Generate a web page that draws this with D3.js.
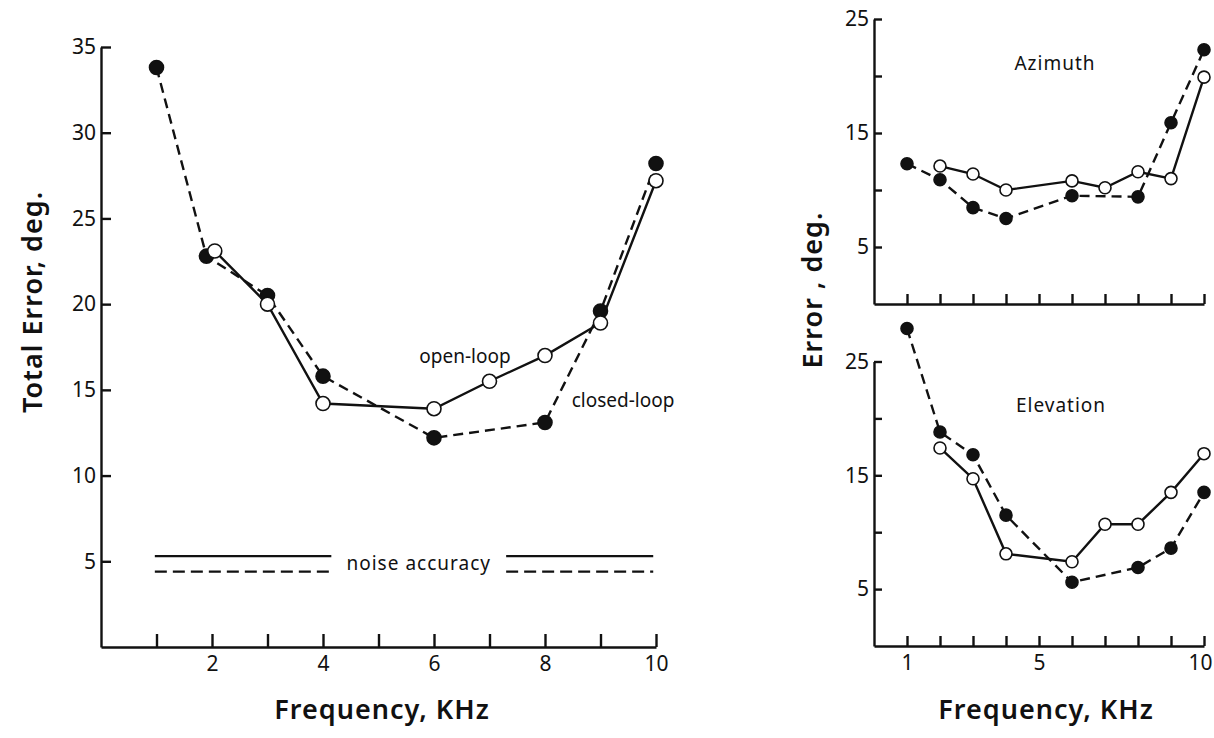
<!DOCTYPE html>
<html>
<head>
<meta charset="utf-8">
<script src="https://cdn.jsdelivr.net/npm/d3@7"></script>
<style>
  body { margin: 0; background: #fff; }
  svg text { font-family: "Noto Sans", "DejaVu Sans", sans-serif; fill: #111; }
  .axis path, .axis line { stroke: #111; stroke-width: 2.4; }
  .axis text { font-size: 21px; }
  .title { font-size: 27px; font-weight: 600; letter-spacing: 1px; }
  .note { font-size: 19px; }
</style>
</head>
<body>
<div id="chart"></div>
<script>
// left panel: total error vs frequency
var leftClosedFreq = [1, 1.9, 3, 4, 6, 8, 9, 10];
var leftClosedErr = [33.8, 22.8, 20.5, 15.8, 12.2, 13.1, 19.6, 28.2];
var leftOpenFreq = [2.05, 3, 4, 6, 7, 8, 9, 10];
var leftOpenErr = [23.1, 20.0, 14.2, 13.9, 15.5, 17.0, 18.9, 27.2];
var noiseOpen = 5.3;
var noiseClosed = 4.4;
var noiseSpans = [[0.97, 4.15], [7.3, 9.95]];

// right panels
var closedFreq = [1, 2, 3, 4, 6, 8, 9, 10];
var openFreq = [2, 3, 4, 6, 7, 8, 9, 10];
var azClosed = [12.3, 10.9, 8.45, 7.5, 9.5, 9.4, 15.9, 22.3];
var azOpen = [12.1, 11.4, 10.0, 10.8, 10.2, 11.6, 11.0, 19.9];
var elClosed = [27.9, 18.8, 16.8, 11.5, 5.6, 6.9, 8.6, 13.5];
var elOpen = [17.4, 14.7, 8.1, 7.4, 10.7, 10.7, 13.5, 16.9];

var leftYTicks = [5, 10, 15, 20, 25, 30, 35];
var leftXTicks = [1, 2, 3, 4, 5, 6, 7, 8, 9, 10];
var leftXLabels = [2, 4, 6, 8, 10];
var rightYTicks = [5, 10, 15, 20, 25];
var rightYLabels = [5, 15, 25];
var rightXLabels = [1, 5, 10];

var svgWidth = 1214;
var svgHeight = 738;

var svg = d3.select("#chart")
  .append("svg")
  .attr("width", svgWidth)
  .attr("height", svgHeight);

function zip(xs, ys) {
  return xs.map(function(x, i) { return [x, ys[i]]; });
}

function drawSeries(g, xScale, yScale, pts, dashed, filled, r) {
  var line = d3.line()
    .x(function(d) { return xScale(d[0]); })
    .y(function(d) { return yScale(d[1]); });
  g.append("path")
    .datum(pts)
    .attr("d", line)
    .attr("fill", "none")
    .attr("stroke", "#111")
    .attr("stroke-width", 2.4)
    .attr("stroke-dasharray", dashed ? "10,6" : null);
  g.selectAll(null)
    .data(pts)
    .enter()
    .append("circle")
    .attr("cx", function(d) { return xScale(d[0]); })
    .attr("cy", function(d) { return yScale(d[1]); })
    .attr("r", r)
    .attr("fill", filled ? "#111" : "#fff")
    .attr("stroke", "#111")
    .attr("stroke-width", 1.6);
}

// ---------- left chart ----------
var lx = d3.scaleLinear().domain([0, 10]).range([101, 656]);
var ly = d3.scaleLinear().domain([0, 35]).range([647, 47]);

svg.append("g")
  .attr("class", "axis")
  .attr("transform", "translate(0,647)")
  .call(d3.axisBottom(lx).tickValues(leftXTicks).tickSizeInner(-13).tickSizeOuter(0).tickPadding(9)
    .tickFormat(function(d) { return leftXLabels.indexOf(d) >= 0 ? d : ""; }));

svg.append("g")
  .attr("class", "axis")
  .attr("transform", "translate(101,0)")
  .call(d3.axisLeft(ly).tickValues(leftYTicks).tickSizeInner(-10).tickSizeOuter(0).tickPadding(5));

var leftG = svg.append("g");
drawSeries(leftG, lx, ly, zip(leftClosedFreq, leftClosedErr), true, true, 7);
drawSeries(leftG, lx, ly, zip(leftOpenFreq, leftOpenErr), false, false, 7);

// noise accuracy lines
noiseSpans.forEach(function(s) {
  leftG.append("line")
    .attr("x1", lx(s[0])).attr("x2", lx(s[1]))
    .attr("y1", ly(noiseOpen)).attr("y2", ly(noiseOpen))
    .attr("stroke", "#111").attr("stroke-width", 2.2);
  leftG.append("line")
    .attr("x1", lx(s[0])).attr("x2", lx(s[1]))
    .attr("y1", ly(noiseClosed)).attr("y2", ly(noiseClosed))
    .attr("stroke", "#111").attr("stroke-width", 2.2)
    .attr("stroke-dasharray", "12,6");
});

leftG.append("text")
  .attr("class", "note")
  .style("letter-spacing", "1px")
  .attr("x", (lx(noiseSpans[0][1]) + lx(noiseSpans[1][0])) / 2)
  .attr("y", (ly(noiseOpen) + ly(noiseClosed)) / 2 + 6)
  .attr("text-anchor", "middle")
  .text("noise  accuracy");

leftG.append("text").attr("class", "note")
  .attr("x", 465).attr("y", 363).attr("text-anchor", "middle").text("open-loop");
leftG.append("text").attr("class", "note")
  .attr("x", 623).attr("y", 407).attr("text-anchor", "middle").text("closed-loop");

svg.append("text")
  .attr("class", "title")
  .attr("transform", "translate(42,302) rotate(-90)")
  .attr("text-anchor", "middle")
  .text("Total Error, deg.");

svg.append("text")
  .attr("class", "title")
  .attr("x", 382).attr("y", 719)
  .attr("text-anchor", "middle")
  .text("Frequency, KHz");

// ---------- right charts ----------
var rx = d3.scaleLinear().domain([0, 10]).range([874, 1204]);
var panels = [
  { name: "Azimuth", bottom: 304, top: 19, closed: azClosed, open: azOpen, labels: false },
  { name: "Elevation", bottom: 646, top: 361.5, closed: elClosed, open: elOpen, labels: true }
];

panels.forEach(function(p) {
  var ry = d3.scaleLinear().domain([0, 25]).range([p.bottom, p.top]);
  var xg = svg.append("g")
    .attr("class", "axis")
    .attr("transform", "translate(0," + p.bottom + ")")
    .call(d3.axisBottom(rx).tickValues(leftXTicks).tickSizeInner(-10).tickSizeOuter(0).tickPadding(9)
      .tickFormat(function(d) { return p.labels && rightXLabels.indexOf(d) >= 0 ? d : ""; }));
  // keep the last label inside the frame
  xg.selectAll(".tick text").filter(function(d) { return d === 10; }).attr("dx", -4);
  svg.append("g")
    .attr("class", "axis")
    .attr("transform", "translate(874,0)")
    .call(d3.axisLeft(ry).tickValues(rightYTicks).tickSizeInner(-8).tickSizeOuter(0).tickPadding(5)
      .tickFormat(function(d) { return rightYLabels.indexOf(d) >= 0 ? d : ""; }));
  var g = svg.append("g");
  drawSeries(g, rx, ry, zip(closedFreq, p.closed), true, true, 6);
  drawSeries(g, rx, ry, zip(openFreq, p.open), false, false, 6);
  g.append("text")
    .attr("class", "note")
    .style("font-size", "19px")
    .style("letter-spacing", "1px")
    .attr("x", p.name === "Azimuth" ? 1055 : 1061)
    .attr("y", p.name === "Azimuth" ? 70 : 412)
    .attr("text-anchor", "middle")
    .text(p.name);
});

svg.append("text")
  .attr("class", "title")
  .attr("transform", "translate(822,290) rotate(-90)")
  .attr("text-anchor", "middle")
  .text("Error , deg.");

svg.append("text")
  .attr("class", "title")
  .attr("x", 1046).attr("y", 719)
  .attr("text-anchor", "middle")
  .text("Frequency, KHz");
</script>
</body>
</html>
